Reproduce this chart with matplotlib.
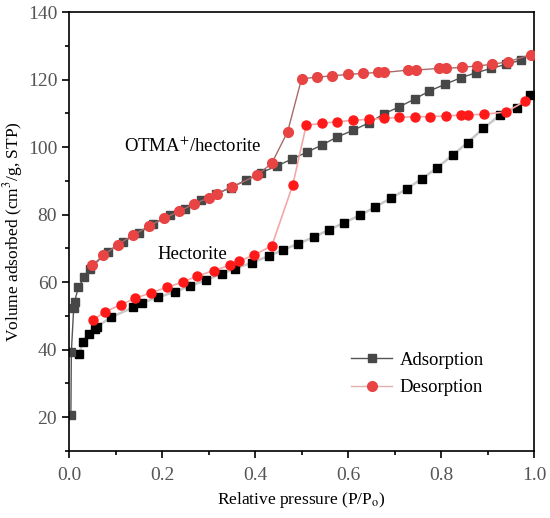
import matplotlib
matplotlib.use("Agg")
import matplotlib.pyplot as plt
from matplotlib.lines import Line2D
from matplotlib.ticker import MultipleLocator

plt.rcParams['font.family'] = ['Liberation Serif', 'DejaVu Serif']
plt.rcParams['mathtext.fontset'] = 'stix'

# OTMA+/hectorite ------------------------------------------------------------
otma_ads_x = [0.004, 0.005, 0.010, 0.012, 0.020, 0.033, 0.045, 0.083, 0.117, 0.151,
              0.181, 0.217, 0.249, 0.283, 0.315, 0.348, 0.381, 0.413, 0.447, 0.479,
              0.512, 0.544, 0.577, 0.610, 0.644, 0.677, 0.710, 0.743, 0.775, 0.809,
              0.842, 0.875, 0.908, 0.940, 0.973]
otma_ads_y = [20.6, 39.3, 52.2, 54.2, 58.4, 61.5, 64.0, 69.0, 72.0, 74.6,
              77.2, 79.8, 81.5, 84.2, 86.0, 88.0, 90.2, 92.4, 94.4, 96.4,
              98.5, 100.6, 103.0, 104.9, 107.1, 109.8, 111.9, 114.2, 116.6, 118.6,
              120.5, 122.0, 123.3, 124.5, 125.8]

otma_des_x = [0.994, 0.945, 0.909, 0.877, 0.844, 0.810, 0.796, 0.746, 0.730, 0.678,
              0.665, 0.632, 0.600, 0.566, 0.533, 0.500, 0.470, 0.436, 0.405, 0.350,
              0.318, 0.302, 0.269, 0.237, 0.204, 0.171, 0.137, 0.105, 0.074, 0.050]
otma_des_y = [127.4, 125.3, 124.5, 124.0, 123.6, 123.3, 123.3, 122.8, 122.8, 122.1,
              122.1, 121.8, 121.5, 121.1, 120.7, 120.2, 104.5, 95.2, 91.7, 88.1,
              86.2, 85.0, 83.2, 80.9, 78.9, 76.5, 73.8, 71.1, 67.9, 65.0]

# Hectorite ------------------------------------------------------------------
hec_ads_x = [0.022, 0.030, 0.042, 0.055, 0.060, 0.091, 0.138, 0.158, 0.192, 0.228,
             0.260, 0.295, 0.328, 0.357, 0.393, 0.429, 0.460, 0.492, 0.526, 0.558,
             0.592, 0.626, 0.658, 0.692, 0.726, 0.758, 0.792, 0.825, 0.857, 0.891,
             0.926, 0.963, 0.991]
hec_ads_y = [38.7, 42.3, 44.7, 46.0, 46.8, 49.6, 52.5, 53.9, 55.5, 57.1,
             58.8, 60.6, 62.4, 64.0, 65.7, 67.7, 69.5, 71.3, 73.3, 75.4,
             77.6, 79.8, 82.2, 84.8, 87.6, 90.5, 93.9, 97.6, 101.3, 105.5,
             109.4, 111.7, 115.3]

hec_des_x = [0.981, 0.940, 0.893, 0.859, 0.842, 0.811, 0.776, 0.744, 0.710, 0.678,
             0.644, 0.610, 0.577, 0.543, 0.510, 0.481, 0.436, 0.398, 0.366, 0.346,
             0.312, 0.276, 0.245, 0.210, 0.176, 0.142, 0.111, 0.077, 0.051]
hec_des_y = [113.6, 110.4, 109.7, 109.5, 109.5, 109.2, 109.0, 109.0, 108.8, 108.5,
             108.2, 107.9, 107.5, 107.0, 106.4, 88.7, 70.7, 68.0, 66.2, 65.0,
             63.4, 61.8, 60.0, 58.4, 56.8, 55.2, 53.2, 51.2, 48.6]

fig = plt.figure(figsize=(5.5, 5.18), dpi=100)
ax = fig.add_axes([0.1255, 0.1298, 0.8455, 0.847])

ax.plot(hec_ads_x, hec_ads_y, color="#c8c8c8", lw=1.8, marker="s", ms=5.8,
        mfc="black", mec="black", zorder=2)
ax.plot(hec_des_x, hec_des_y, color="#f2a8a8", lw=1.2, marker="o", ms=6.5,
        mfc="#ff1a1a", mec="#ff1a1a", zorder=3)
ax.plot(otma_ads_x, otma_ads_y, color="#555555", lw=1.0, marker="s", ms=6,
        mfc="#474747", mec="#474747", zorder=2)
ax.plot(otma_des_x, otma_des_y, color="#a86a6a", lw=1.0, marker="o", ms=7,
        mfc="#e84444", mec="#e84444", zorder=3)

ax.text(0.118, 98.5, "OTMA$^{+}$/hectorite", fontsize=13.5)
ax.text(0.191, 66.8, "Hectorite", fontsize=13.5)

handles = [Line2D([], [], color="#555555", lw=1.0, marker="s", ms=6,
                  mfc="#474747", mec="#474747"),
           Line2D([], [], color="#e0b0b0", lw=1.0, marker="o", ms=7,
                  mfc="#e84444", mec="#e84444")]
ax.legend(handles, ["Adsorption", "Desorption"], loc="center left",
          bbox_to_anchor=(0.57, 0.175), frameon=False, fontsize=13.5,
          handlelength=2.2, labelspacing=0.55, handletextpad=0.4)

ax.set_xlim(0, 1.0)
ax.set_ylim(10, 140)
ax.xaxis.set_major_locator(MultipleLocator(0.2))
ax.xaxis.set_minor_locator(MultipleLocator(0.1))
ax.yaxis.set_minor_locator(MultipleLocator(10))
ax.set_yticks([20, 40, 60, 80, 100, 120, 140])
ax.xaxis.set_major_formatter(matplotlib.ticker.FormatStrFormatter("%.1f"))
ax.tick_params(which="both", direction="out", top=False, right=False,
               labelsize=14, labelcolor="#555555", width=1.2)
ax.tick_params(axis="x", which="major", pad=7)
ax.tick_params(which="major", length=5)
ax.tick_params(which="minor", length=3)
for s in ax.spines.values():
    s.set_linewidth(1.2)

ax.set_xlabel("Relative pressure (P/P$_{\\rm o}$)", fontsize=12.5, labelpad=4)
ax.set_ylabel("Volume adsorbed (cm$^{3}$/g, STP)", fontsize=12.5, labelpad=2)

fig.savefig("out.png", dpi=100)
